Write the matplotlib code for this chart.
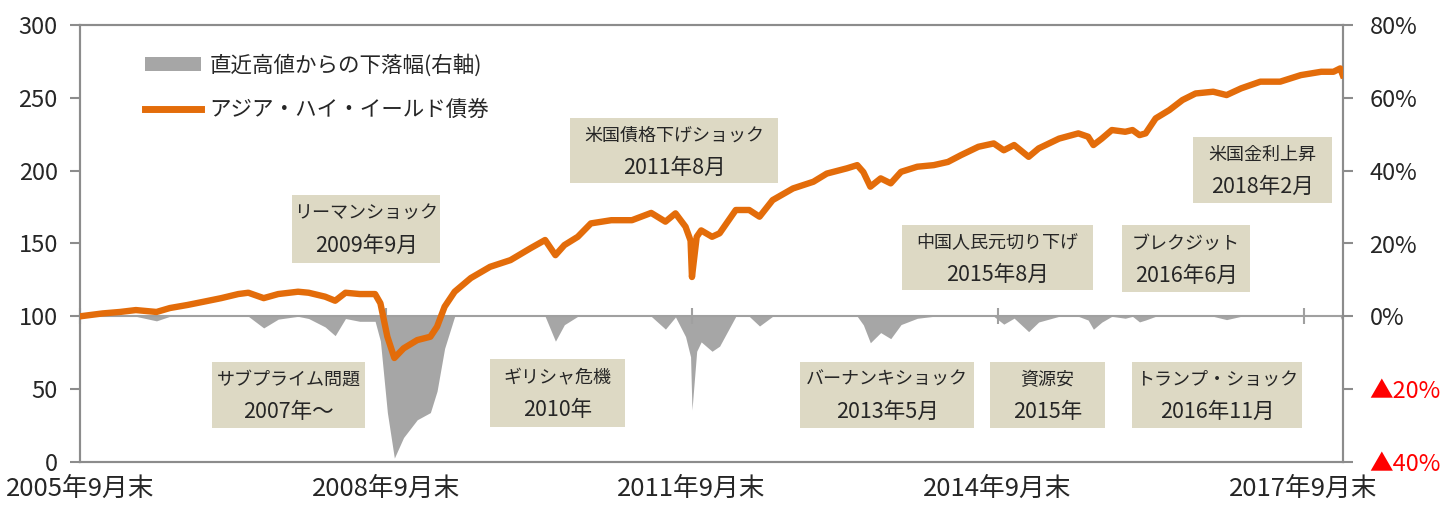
import numpy as np
import pandas as pd
import matplotlib
matplotlib.use('Agg')
import matplotlib.pyplot as plt
from matplotlib.patches import Patch, Rectangle
from matplotlib.lines import Line2D

plt.rcParams['font.family'] = ['Noto Sans CJK JP', 'DejaVu Sans']

# ---------------- data ----------------
dates = [
    '2005-09-30', '2005-12-20', '2006-02-20', '2006-04-18', '2006-07-01', '2006-08-18',
    '2006-10-20', '2006-12-16', '2007-02-18', '2007-04-20', '2007-05-26', '2007-07-20',
    '2007-09-10', '2007-11-20', '2007-12-28', '2008-02-25', '2008-04-01', '2008-05-08',
    '2008-06-28', '2008-08-22', '2008-09-10', '2008-10-05', '2008-10-30', '2008-12-02',
    '2009-01-20', '2009-03-08', '2009-04-01', '2009-04-28', '2009-06-03', '2009-07-31',
    '2009-10-08', '2009-12-20', '2010-03-03', '2010-04-23', '2010-05-30', '2010-07-01',
    '2010-08-18', '2010-10-04', '2010-12-16', '2011-02-28', '2011-05-08', '2011-06-28',
    '2011-08-03', '2011-09-08', '2011-09-26', '2011-10-01', '2011-10-18', '2011-11-03',
    '2011-12-12', '2012-01-08', '2012-03-06', '2012-04-23', '2012-05-30', '2012-07-16',
    '2012-09-27', '2012-12-09', '2013-01-26', '2013-04-08', '2013-05-15', '2013-06-06',
    '2013-07-01', '2013-08-07', '2013-09-12', '2013-10-19', '2013-12-16', '2014-02-13',
    '2014-04-05', '2014-05-22', '2014-07-23', '2014-09-16', '2014-10-22', '2014-11-28',
    '2015-01-19', '2015-02-24', '2015-05-08', '2015-07-16', '2015-08-20', '2015-09-08',
    '2015-10-08', '2015-11-13', '2015-12-31', '2016-01-26', '2016-02-20', '2016-03-13',
    '2016-04-18', '2016-06-06', '2016-07-23', '2016-09-08', '2016-11-10', '2016-12-28',
    '2017-02-18', '2017-04-28', '2017-07-08', '2017-09-20', '2017-12-02', '2018-01-15',
    '2018-02-08', '2018-02-17',
]
asia_hy = [
    100.0, 102.0, 103.0, 104.3, 103.0, 105.7,
    107.8, 110.0, 112.5, 115.3, 116.2, 112.5,
    115.3, 116.9, 116.2, 113.5, 110.7, 116.2,
    115.3, 115.3, 109.0, 86.0, 71.4, 78.0,
    83.7, 86.0, 92.9, 106.6, 116.9, 126.3,
    134.0, 138.6, 146.9, 152.4, 142.0, 148.9,
    154.6, 163.8, 166.0, 166.0, 171.0, 165.0,
    170.7, 161.5, 152.0, 127.0, 154.6, 159.0,
    154.6, 157.0, 173.0, 173.0, 168.4, 179.8,
    187.8, 192.4, 198.0, 201.6, 203.8, 199.0,
    189.0, 194.7, 191.3, 199.2, 202.7, 203.8,
    206.0, 210.7, 216.4, 218.7, 214.0, 217.6,
    209.5, 215.3, 222.0, 225.6, 223.3, 217.6,
    222.0, 227.9, 226.7, 227.9, 224.4, 225.6,
    235.9, 241.6, 248.5, 253.0, 254.2, 251.9,
    256.5, 261.1, 261.1, 265.6, 267.9, 267.9,
    270.2, 265.6,
]
series_names = ['直近高値からの下落幅(右軸)', 'アジア・ハイ・イールド債券']

x_tick_dates = ['2005-09-30', '2008-09-30', '2011-09-30', '2014-09-30', '2017-09-30']
x_tick_labels = ['2005年9月末', '2008年9月末', '2011年9月末', '2014年9月末', '2017年9月末']
left_ticks = [0, 50, 100, 150, 200, 250, 300]
right_ticks = [-40, -20, 0, 20, 40, 60, 80]
right_tick_labels = ['▲40%', '▲20%', '0%', '20%', '40%', '60%', '80%']

event_titles = ['サブプライム問題', 'リーマンショック', 'ギリシャ危機', '米国債格下げショック',
                'バーナンキショック', '資源安', 'トランプ・ショック',
                '中国人民元切り下げ', 'ブレクジット', '米国金利上昇']
event_dates = ['2007年～', '2009年9月', '2010年', '2011年8月',
               '2013年5月', '2015年', '2016年11月',
               '2015年8月', '2016年6月', '2018年2月']

# ---------------- layout ----------------
W, H = 1448, 511
# box extents in pixels (x0, y0, x1, y1), y measured from top
event_boxes = [(212, 362, 365, 428), (292, 195, 440, 263), (490, 359, 625, 427),
               (570, 118, 778, 183), (800, 362, 974, 428), (990, 362, 1105, 428),
               (1132, 362, 1302, 428), (902, 225, 1093, 290), (1122, 225, 1250, 292),
               (1193, 137, 1332, 203)]

ORANGE = '#E36C0A'
GRAYBAR = '#A6A6A6'
AXGRAY = '#8C8C8C'
BOX = '#DDD9C4'
TXT = '#262626'

d = pd.to_datetime(dates)
v = np.array(asia_hy)
drawdown = (v / np.maximum.accumulate(v) - 1.0) * 100.0

fig = plt.figure(figsize=(W / 100, H / 100), dpi=100)
ax = fig.add_axes([80 / W, (H - 462) / H, 1263 / W, 437 / H])
ax2 = ax.twinx()
ax.set_zorder(ax2.get_zorder() + 1)
ax.patch.set_visible(False)

# drawdown (right axis)
ax2.fill_between(d, drawdown, 0, color=GRAYBAR, lw=0)
ax2.axhline(0, color='#A0A0A0', lw=1.5, zorder=1)
tk = pd.to_datetime(x_tick_dates)
ax2.plot(tk, np.zeros(len(tk)), ls='none', marker='|', ms=12, mew=1.5, color='#A0A0A0',
         clip_on=False)
ax2.set_ylim(-40, 80)
ax2.set_yticks(right_ticks)
ax2.set_yticklabels(right_tick_labels)
for lab, val in zip(ax2.get_yticklabels(), right_ticks):
    lab.set_color('#FF0000' if val < 0 else TXT)

# index line (left axis)
ax.plot(d, v, color=ORANGE, lw=4.6, solid_joinstyle='round', zorder=3)
ax.set_ylim(0, 300)
ax.set_yticks(left_ticks)
ax.set_xlim(pd.Timestamp('2005-09-30'), pd.Timestamp('2018-02-18'))
ax.set_xticks(tk)
ax.set_xticklabels(x_tick_labels)

for a in (ax, ax2):
    for s in a.spines.values():
        s.set_color(AXGRAY)
        s.set_linewidth(1.5)
ax.tick_params(axis='y', direction='out', length=7, width=1.5, color=AXGRAY,
               labelsize=17, labelcolor=TXT, pad=9)
ax2.tick_params(axis='y', direction='out', length=7, width=1.5, color=AXGRAY,
                labelsize=17, pad=12)
ax.tick_params(axis='x', length=0, labelsize=18.5, labelcolor=TXT, pad=10)

# legend
handles = [Patch(facecolor=GRAYBAR, edgecolor='none'),
           Line2D([], [], color=ORANGE, lw=5)]
leg = ax.legend(handles, series_names, loc='upper left',
                bbox_to_anchor=(145 / W, 1 - 54 / H), bbox_transform=fig.transFigure,
                frameon=False, fontsize=15.5, handlelength=2.6, handleheight=0.6,
                handletextpad=0.4, labelspacing=1.05, borderpad=0, borderaxespad=0)
for t in leg.get_texts():
    t.set_color(TXT)

# event boxes
for title, when, (x0, y0, x1, y1) in zip(event_titles, event_dates, event_boxes):
    rect = Rectangle((x0 / W, 1 - y1 / H), (x1 - x0) / W, (y1 - y0) / H,
                     transform=fig.transFigure, facecolor=BOX, edgecolor='none', zorder=5)
    fig.add_artist(rect)
    cx = (x0 + x1) / 2 / W
    cy = (y0 + y1) / 2
    fig.text(cx, 1 - (cy - 15) / H, title, ha='center', va='center', fontsize=13,
             color=TXT, zorder=6)
    fig.text(cx, 1 - (cy + 17) / H, when, ha='center', va='center', fontsize=15.5,
             color=TXT, zorder=6)

fig.savefig('out.png', dpi=100)
